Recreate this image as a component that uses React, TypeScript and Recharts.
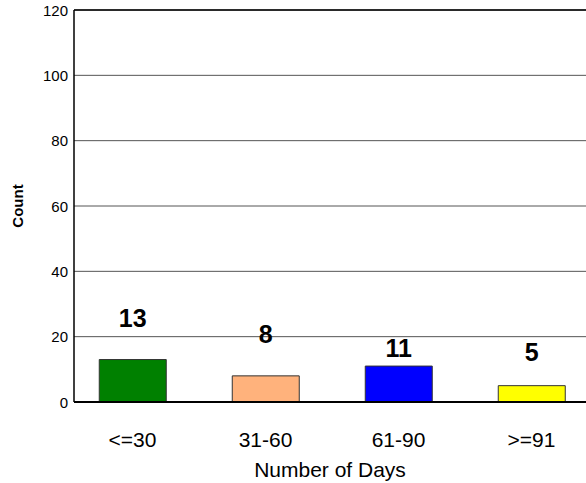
import React from 'react';
import { BarChart, Bar, XAxis, YAxis, CartesianGrid, Cell, LabelList, ReferenceLine } from 'recharts';

const categories = ['<=30', '31-60', '61-90', '>=91'];
const counts = [13, 8, 11, 5];
const barColors = ['#008000', '#FFB27C', '#0000FF', '#FFFF00'];
const yTicks = [0, 20, 40, 60, 80, 100, 120];

const data = categories.map((name, i) => ({ name, count: counts[i] }));

const FONT = "Arial, 'Liberation Sans', sans-serif";
const LABEL_LIFT = [41.5, 42, 18.5, 34];

const XTick = (props: any) => {
  const { x, y, payload } = props;
  return (
    <text x={x} y={y + 37} textAnchor="middle" dominantBaseline="central" fontSize={21} fill="#000" fontFamily={FONT}>
      {payload.value}
    </text>
  );
};

const YTick = (props: any) => {
  const { x, y, payload } = props;
  return (
    <text x={x} y={y} textAnchor="end" dominantBaseline="central" fontSize={15} fill="#000" fontFamily={FONT}>
      {payload.value}
    </text>
  );
};

const BarLabel = (props: any) => {
  const { x, y, width, value, index } = props;
  return (
    <text
      x={Number(x) + Number(width) / 2}
      y={Number(y) - LABEL_LIFT[index]}
      textAnchor="middle"
      dominantBaseline="central"
      fontSize={25}
      fontWeight="bold"
      fill="#000"
      fontFamily={FONT}
    >
      {value}
    </text>
  );
};

const YTitle = (props: any) => {
  const { viewBox } = props;
  const cx = viewBox.x + 17;
  const cy = viewBox.y + viewBox.height / 2;
  return (
    <text x={cx} y={cy} transform={`rotate(-90, ${cx}, ${cy})`} textAnchor="middle" dominantBaseline="central" fontSize={15} fontWeight="bold" fill="#000" fontFamily={FONT}>
      Count
    </text>
  );
};

const XTitle = (props: any) => {
  const { viewBox } = props;
  return (
    <text x={330} y={viewBox.y + 67} textAnchor="middle" dominantBaseline="central" fontSize={21} fill="#000" fontFamily={FONT}>
      Number of Days
    </text>
  );
};

export default function App() {
  return (
    <div style={{ position: 'absolute', left: 0, top: 0, width: 586, height: 483, background: '#fff' }}>
      <BarChart width={586} height={483} data={data} margin={{ top: 10, right: 0, bottom: 0, left: 0 }} barCategoryGap="25%">
        <CartesianGrid vertical={false} stroke="#555" />
        <XAxis
          dataKey="name"
          height={81}
          axisLine={{ stroke: '#000', strokeWidth: 2 }}
          tickLine={false}
          tickSize={0}
          tickMargin={0}
          tick={<XTick />}
          padding={{ left: -8, right: -12 }}
          label={<XTitle />}
        />
        <YAxis
          width={74}
          domain={[0, 120]}
          ticks={yTicks}
          interval={0}
          axisLine={{ stroke: '#000', strokeWidth: 1.5 }}
          tickLine={false}
          tickSize={0}
          tickMargin={6}
          tick={<YTick />}
          label={<YTitle />}
        />
        <ReferenceLine y={120} stroke="#000" strokeWidth={1.5} />
        <Bar dataKey="count" stroke="#333" strokeWidth={1} isAnimationActive={false}>
          {data.map((d, i) => (
            <Cell key={d.name} fill={barColors[i]} />
          ))}
          <LabelList dataKey="count" content={<BarLabel />} />
        </Bar>
      </BarChart>
    </div>
  );
}
